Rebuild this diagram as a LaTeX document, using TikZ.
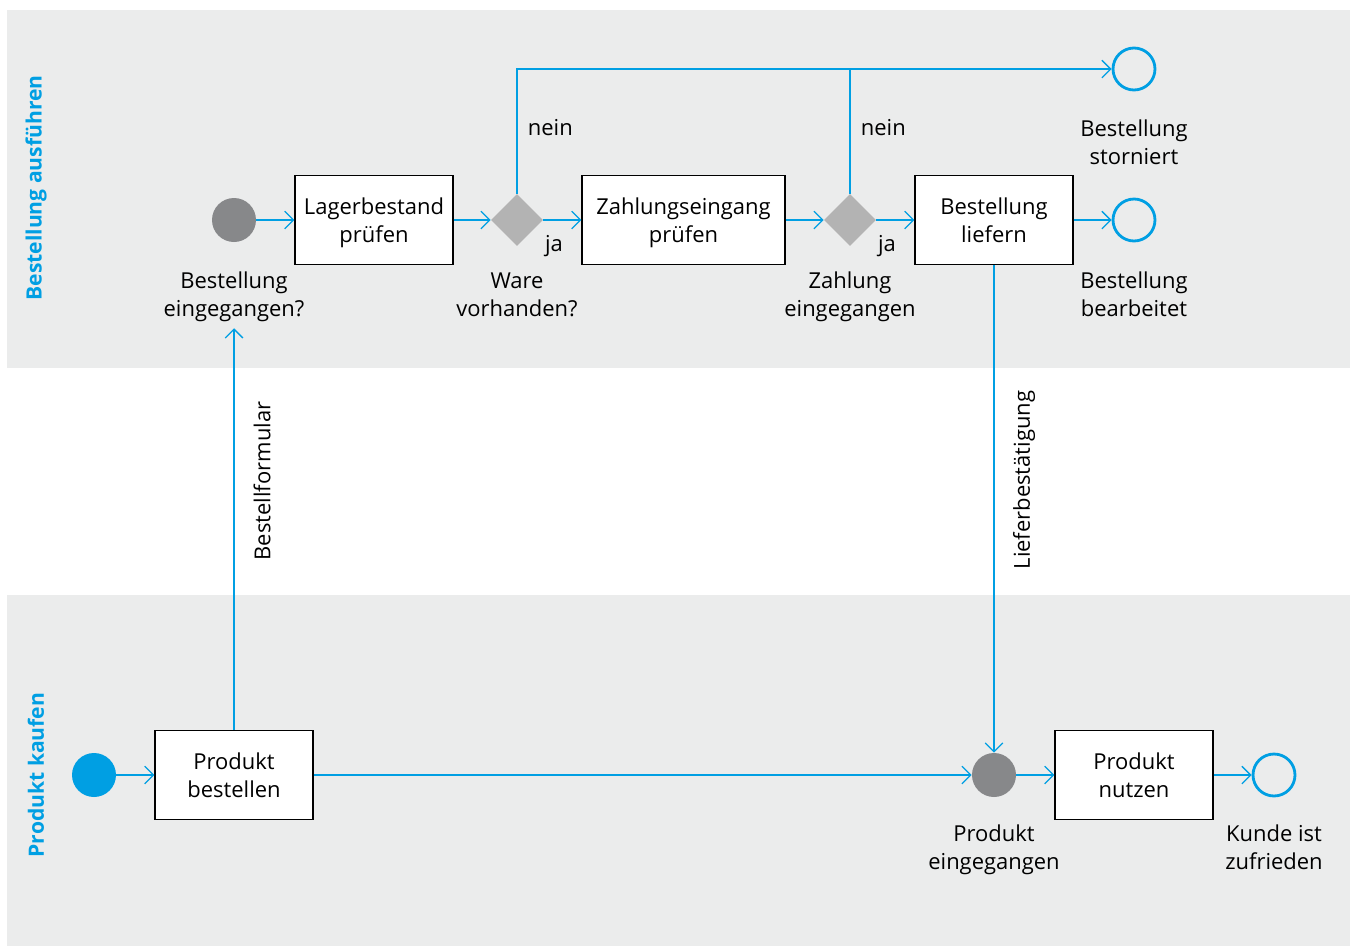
\documentclass[tikz,border=0pt]{standalone}
\usepackage{fontspec}
\setmainfont{Open Sans}
\usetikzlibrary{arrows.meta,shapes.geometric}
\definecolor{cBlue}{HTML}{009FE3}
\definecolor{cLane}{HTML}{EBECEC}
\definecolor{cDot}{HTML}{87888A}
\definecolor{cGate}{HTML}{B3B3B3}

\tikzset{
  box/.style={draw=black,fill=white,line width=0.7pt,minimum width=3.16cm,minimum height=1.78cm,align=center,inner sep=2pt,text depth=0pt},
  dot/.style={circle,fill=cDot,minimum size=0.88cm,inner sep=0pt},
  go/.style={circle,fill=cBlue,minimum size=0.88cm,inner sep=0pt},
  final/.style={circle,draw=cBlue,line width=1.6pt,minimum size=0.84cm,inner sep=0pt},
  gate/.style={diamond,fill=cGate,minimum size=1.04cm,inner sep=0pt},
  txt/.style={align=center,text=black,font=\fontsize{12.5}{16}\selectfont},
  lane/.style={rotate=90,text=cBlue,font=\fontsize{12}{14}\selectfont\bfseries},
  flow/.style={cBlue,line width=0.75pt,-{Straight Barb[length=5pt,width=10pt]}},
  wire/.style={cBlue,line width=0.75pt}
}

\begin{document}
\begin{tikzpicture}[x=0.02cm,y=-0.02cm,every node/.append style={font=\fontsize{12.5}{16}\selectfont}]
  \useasboundingbox (0,0) rectangle (1352,947);
  % swimlanes
  \fill[cLane] (7,10) rectangle (1350,368);
  \fill[cLane] (7,595) rectangle (1350,946);
  \node[lane] (laneA) at (36,188) {Bestellung ausführen};
  \node[lane] (laneB) at (36,775) {Produkt kaufen};

  % order handling
  \node[dot] (recv) at (234,220) {};
  \node[box] (stock) at (374,220) {Lagerbestand\\prüfen};
  \node[gate] (have) at (517,220) {};
  \node[box,minimum width=4.06cm] (pay) at (683.5,220) {Zahlungseingang\\prüfen};
  \node[gate] (paid) at (850,220) {};
  \node[box] (ship) at (994,220) {Bestellung\\liefern};
  \node[final] (done) at (1134,220) {};
  \node[final] (cancel) at (1134,69) {};

  % customer
  \node[go] (begin) at (94,775) {};
  \node[box] (order) at (234,775) {Produkt\\bestellen};
  \node[dot] (got) at (994,775) {};
  \node[box] (use) at (1134,775) {Produkt\\nutzen};
  \node[final] (happy) at (1274,775) {};

  % event and gateway captions
  \foreach \n/\x/\y/\t in {lrecv/234/297/{Bestellung\\eingegangen?},lhave/517/295/{Ware\\vorhanden?},
      lpaid/850/297/{Zahlung\\eingegangen},ldone/1134/294/{Bestellung\\bearbeitet},
      lcancel/1134/142/{Bestellung\\storniert},lgot/994/850/{Produkt\\eingegangen},
      lhappy/1274/847/{Kunde ist\\zufrieden}}
    \node[txt] (\n) at (\x,\y) {\t};
  \node[txt,rotate=90] (form) at (262,481) {Bestellformular};
  \node[txt,rotate=90] (note) at (1024,480) {Lieferbestätigung};

  % sequence flows
  \draw[flow] (recv) -- (stock);
  \draw[flow] (stock) -- (have);
  \draw[flow] (have) -- node[txt,pos=0.28,below=5pt] {ja} (pay);
  \draw[flow] (pay) -- (paid);
  \draw[flow] (paid) -- node[txt,pos=0.28,below=5pt] {ja} (ship);
  \draw[flow] (ship) -- (done);
  \draw[flow] (have.north) -- node[txt,pos=0.53,right=2.5pt] {nein} (have.north |- cancel) -- (cancel);
  \draw[wire] (paid.north) -- node[txt,pos=0.53,right=2.5pt] {nein} (paid.north |- cancel);
  \draw[flow] (begin) -- (order);
  \draw[flow] (order) -- (got);
  \draw[flow] (got) -- (use);
  \draw[flow] (use) -- (happy);
  % message flows
  \draw[flow] (order.north) -- (lrecv.south);
  \draw[flow] (ship.south) -- (got.north);
\end{tikzpicture}
\end{document}
